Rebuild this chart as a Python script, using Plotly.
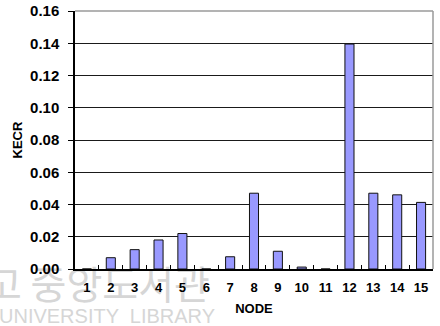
import plotly.graph_objects as go

nodes = [str(i) for i in range(1, 16)]
kecr = [0.0, 0.007, 0.012, 0.018, 0.022, 0.0, 0.0076, 0.047, 0.011, 0.0012,
        0.0, 0.1395, 0.047, 0.046, 0.0413]
y_ticks = [0.0, 0.02, 0.04, 0.06, 0.08, 0.10, 0.12, 0.14, 0.16]
y_labels = ["0.00", "0.02", "0.04", "0.06", "0.08", "0.10", "0.12", "0.14", "0.16"]

watermark_ko = "고 중앙도서관"
watermark_en = "UNIVERSITY  LIBRARY"

W, H = 440, 326
L, R, T, B = 75, 7, 11, 57
PW, PH = W - L - R, H - T - B


def px(x):
    return (x - L) / PW


def py(y):
    return (H - B - y) / PH


fig = go.Figure()

fig.add_trace(go.Bar(
    x=nodes, y=kecr,
    marker=dict(color="#9999FF", line=dict(color="#111111", width=1)),
    showlegend=False, hoverinfo="skip"))

font_family = "Liberation Sans, Arial, sans-serif"
wm_color = "#d6d6d6"

fig.update_layout(
    template="none",
    width=W, height=H,
    margin=dict(l=L, r=R, t=T, b=B, autoexpand=False),
    paper_bgcolor="white", plot_bgcolor="rgba(0,0,0,0)",
    bargap=0.62,
    xaxis=dict(
        type="category", automargin=False,
        showline=True, linecolor="black", linewidth=1.5,
        ticks="inside", tickson="boundaries", ticklen=4, tickcolor="black", tickwidth=1,
        showgrid=False, tickangle=0,
        tickfont=dict(family=font_family, size=13, color="black", weight="bold"),
        ticklabelstandoff=6,
        title=dict(text="<b>NODE</b>", font=dict(family=font_family, size=13, color="black"), standoff=10),
    ),
    yaxis=dict(
        range=[0, 0.16], automargin=False,
        tickvals=y_ticks, ticktext=y_labels,
        showline=True, linecolor="black", linewidth=1.5,
        ticks="outside", ticklen=5, tickcolor="black",
        showgrid=True, gridcolor="#1a1a1a", gridwidth=1,
        zeroline=False,
        tickfont=dict(family=font_family, size=15, color="black", weight="bold"),
        ticklabelstandoff=6,
        title=dict(text="<b>KECR</b>", font=dict(family=font_family, size=13, color="black"), standoff=4),
    ),
    shapes=[
        dict(type="rect", xref="paper", yref="paper", layer="below",
             x0=px(-160), x1=px(216), y0=py(310), y1=py(266),
             line=dict(width=0), fillcolor="rgba(0,0,0,0)",
             label=dict(text=watermark_ko, textposition="middle right",
                        font=dict(size=39, color=wm_color, family="Noto Sans CJK KR"))),
        dict(type="rect", xref="paper", yref="paper", layer="below",
             x0=px(-160), x1=px(221), y0=py(330), y1=py(298),
             line=dict(width=0), fillcolor="rgba(0,0,0,0)",
             label=dict(text=watermark_en, textposition="middle right",
                        font=dict(size=20, color=wm_color, family="Liberation Sans"))),
        dict(type="line", xref="paper", yref="paper", x0=0, x1=1, y0=1, y1=1,
             line=dict(color="#9a9a9a", width=1.5)),
        dict(type="line", xref="paper", yref="paper", x0=1, x1=1, y0=0, y1=1,
             line=dict(color="#9a9a9a", width=1.5)),
    ],
)

fig.write_html("out.html", config={"displayModeBar": False},
               post_script="document.body.style.margin='0px';")
